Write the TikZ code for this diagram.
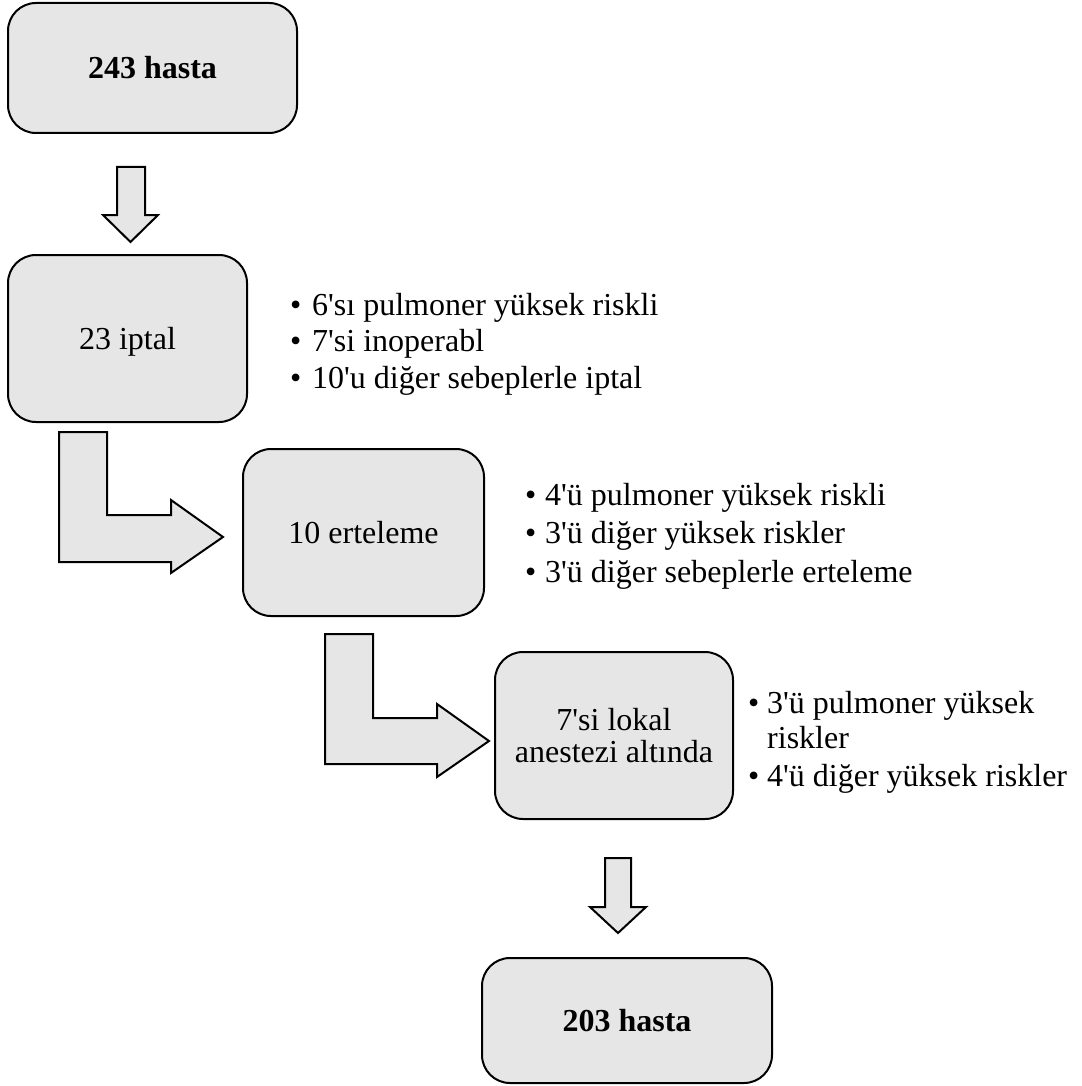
\documentclass[tikz,border=0pt]{standalone}
\usepackage{fontspec}
\setmainfont{Liberation Serif}
\definecolor{boxgray}{HTML}{E6E6E6}
\newcommand{\ap}{\textquotesingle}
\tikzset{
  box/.style={draw=black, line width=2pt, fill=boxgray, rounded corners=28pt,
    inner sep=0pt, text height=22pt, text depth=0pt,
    font=\fontsize{32}{36.7}\selectfont},
  blockarrow/.style={draw=black, line width=2pt, fill=boxgray, line join=miter},
  item/.style={anchor=base west, inner sep=0pt, font=\fontsize{32}{36.7}\selectfont},
}
\begin{document}
\begin{tikzpicture}[x=1pt, y=-1pt]
\useasboundingbox (0,0) rectangle (1081,1086);
% boxes
\node[box, minimum width=289pt, minimum height=130pt] (b1) at (152.5,68) {\textbf{243 hasta}};
\node[box, minimum width=239pt, minimum height=167pt] (b2) at (127.5,338.5) {23 iptal};
\node[box, minimum width=241pt, minimum height=167pt] (b3) at (363.5,532.5) {10 erteleme};
\node[box, minimum width=238pt, minimum height=167pt, align=center,
      text height={}, text depth={}, font=\fontsize{32}{32.5}\selectfont] (b4) at (614,735.5) {7\ap si lokal\\anestezi altında};
\node[box, minimum width=290pt, minimum height=125pt] (b5) at (627,1020.5) {\textbf{203 hasta}};
% block arrows
\draw[blockarrow] (117,167) -- (145,167) -- (145,215) -- (158,215) -- (130.5,242)
  -- (103,215) -- (117,215) -- cycle;
\draw[blockarrow] (59,432) -- (107,432) -- (107,515) -- (171,515) -- (171,500)
  -- (223,537) -- (171,573) -- (171,562) -- (59,562) -- cycle;
\draw[blockarrow] (325,634) -- (373,634) -- (373,718) -- (437,718) -- (437,704)
  -- (489,741) -- (437,777) -- (437,764) -- (325,764) -- cycle;
\draw[blockarrow] (605,858) -- (631,858) -- (631,907) -- (646,907) -- (618,933)
  -- (590,907) -- (605,907) -- cycle;
% list 1
\node[item] (u1a) at (290,315) {•};
\node[item] (t1a) at (312,315) {6\ap sı pulmoner yüksek riskli};
\node[item] (u1b) at (290,351.5) {•};
\node[item] (t1b) at (312,351.5) {7\ap si inoperabl};
\node[item] (u1c) at (290,388) {•};
\node[item] (t1c) at (312,388) {10\ap u diğer sebeplerle iptal};
% list 2
\node[item] (u2a) at (525,505) {•};
\node[item] (t2a) at (545,505) {4\ap ü pulmoner yüksek riskli};
\node[item] (u2b) at (525,543) {•};
\node[item] (t2b) at (545,543) {3\ap ü diğer yüksek riskler};
\node[item] (u2c) at (525,582) {•};
\node[item] (t2c) at (545,582) {3\ap ü diğer sebeplerle erteleme};
% list 3
\node[item] (u3a) at (748,713) {•};
\node[item] (t3a) at (767,713) {3\ap ü pulmoner yüksek};
\node[item] (t3b) at (767,748) {riskler};
\node[item] (u3c) at (748,786) {•};
\node[item] (t3c) at (767,786) {4\ap ü diğer yüksek riskler};
\end{tikzpicture}
\end{document}
